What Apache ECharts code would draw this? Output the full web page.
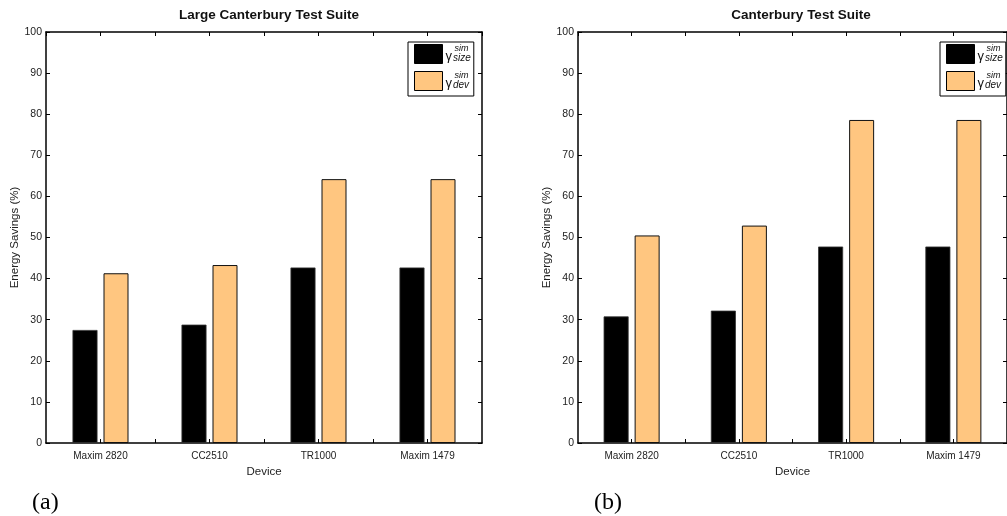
<!DOCTYPE html>
<html>
<head>
<meta charset="utf-8">
<script src="https://cdn.jsdelivr.net/npm/echarts@6/dist/echarts.min.js"></script>
<style>html,body{margin:0;padding:0;background:#fff;}#c{width:1007px;height:516px;}</style>
</head>
<body>
<div id="c"></div>
<script>
const categories = ['Maxim 2820', 'CC2510', 'TR1000', 'Maxim 1479'];
const titles = ['Large Canterbury Test Suite', 'Canterbury Test Suite'];
const panelLabels = ['(a)', '(b)'];
const largeSize = [27.5, 28.8, 42.7, 42.7];
const largeDev = [41.3, 43.3, 64.2, 64.2];
const canSize = [30.8, 32.2, 47.8, 47.8];
const canDev = [50.5, 52.9, 78.6, 78.6];
const yTicks = [0, 10, 20, 30, 40, 50, 60, 70, 80, 90, 100];
const xName = 'Device';
const yName = 'Energy Savings (%)';

const FONT = 'Liberation Sans, Arial, sans-serif';
const ORANGE = '#FFC680';
const panels = [
  {left: 46, size: largeSize, dev: largeDev, labelX: 32},
  {left: 578, size: canSize, dev: canDev, labelX: 594}
];
const W = 436, TOP = 32, H = 411;

const toXY = arr => arr.map((v, i) => [i + 1, v]);
const grid = [], xAxis = [], yAxis = [], series = [], title = [], legend = [], graphic = [];

panels.forEach((p, k) => {
  grid.push({left: p.left, top: TOP, width: W, height: H, containLabel: false});
  const axLine = {show: true, onZero: false, lineStyle: {color: '#000', width: 1.5}};
  const tick = {show: true, inside: true, length: 4, lineStyle: {color: '#000', width: 1}};
  xAxis.push({
    type: 'value', gridIndex: k, min: 0.5, max: 4.5, interval: 0.5, position: 'bottom',
    axisLine: axLine, axisTick: tick, splitLine: {show: false},
    axisLabel: {color: '#222', fontFamily: FONT, fontSize: 10, margin: 8, showMinLabel: false, showMaxLabel: false,
      formatter: v => Number.isInteger(v) ? categories[v - 1] : ''},
    name: xName, nameLocation: 'middle', nameGap: 21,
    nameTextStyle: {color: '#222', fontFamily: FONT, fontSize: 11.5}
  });
  xAxis.push({
    type: 'value', gridIndex: k, min: 0.5, max: 4.5, interval: 0.5, position: 'top',
    axisLine: axLine, axisTick: tick, axisLabel: {show: false}, splitLine: {show: false}
  });
  yAxis.push({
    type: 'value', gridIndex: k, min: 0, max: 100, interval: 10, position: 'left',
    axisLine: axLine, axisTick: tick, splitLine: {show: false},
    axisLabel: {color: '#222', fontFamily: FONT, fontSize: 10.5, margin: 4,
      formatter: v => yTicks.includes(v) ? String(v) : ''},
    name: yName, nameLocation: 'middle', nameGap: 22, nameRotate: 90,
    nameTextStyle: {color: '#222', fontFamily: FONT, fontSize: 11.5}
  });
  yAxis.push({
    type: 'value', gridIndex: k, min: 0, max: 100, interval: 10, position: 'right',
    axisLine: axLine, axisTick: tick, axisLabel: {show: false}, splitLine: {show: false}
  });
  const nS = 'size' + k, nD = 'dev' + k;
  series.push({
    type: 'bar', name: nS, xAxisIndex: 2 * k, yAxisIndex: 2 * k, data: toXY(p.size),
    barWidth: 25, barGap: '24%', itemStyle: {color: '#000', borderColor: '#333', borderWidth: 0.8}
  });
  series.push({
    type: 'bar', name: nD, xAxisIndex: 2 * k, yAxisIndex: 2 * k, data: toXY(p.dev),
    barWidth: 25, barGap: '24%', itemStyle: {color: ORANGE, borderColor: '#111', borderWidth: 1}
  });
  title.push({
    text: titles[k], left: p.left + W / 2, top: 3, textAlign: 'center',
    textStyle: {fontFamily: FONT, fontSize: 13.5, fontWeight: 'bold', color: '#111'}
  });
  legend.push({
    data: [nS, nD], orient: 'vertical', left: p.left + 362, top: 42,
    icon: 'rect', itemWidth: 28, itemHeight: 19, itemGap: 4,
    padding: [2, 3, 2, 6], borderColor: '#000', borderWidth: 1, backgroundColor: '#fff',
    selectedMode: false,
    formatter: name => name.startsWith('size')
      ? '{sp|}{sup|sim}\n{g|γ}{sub|size}'
      : '{sp|}{sup|sim}\n{g|γ}{sub|dev}',
    textStyle: {
      fontFamily: FONT, color: '#111', padding: [0, 0, 0, -2],
      rich: {
        sp: {width: 9, fontSize: 9, lineHeight: 9},
        sup: {fontSize: 9, fontStyle: 'italic', fontFamily: FONT, lineHeight: 9},
        g: {fontSize: 13, fontFamily: FONT, lineHeight: 11, padding: [0, 1, 4, 0]},
        sub: {fontSize: 10, fontStyle: 'italic', fontFamily: FONT, lineHeight: 11}
      }
    },
    itemStyle: {borderColor: '#000', borderWidth: 1}
  });
  graphic.push({
    type: 'text', left: p.labelX, top: 491,
    style: {text: panelLabels[k], fontFamily: 'Liberation Serif, Times New Roman, serif', fontSize: 24, fill: '#000'}
  });
});

const chart = echarts.init(document.getElementById('c'), null, {renderer: 'canvas'});
chart.setOption({
  animation: false, backgroundColor: '#fff',
  grid, xAxis, yAxis, series, title, legend, graphic
});
</script>
</body>
</html>
